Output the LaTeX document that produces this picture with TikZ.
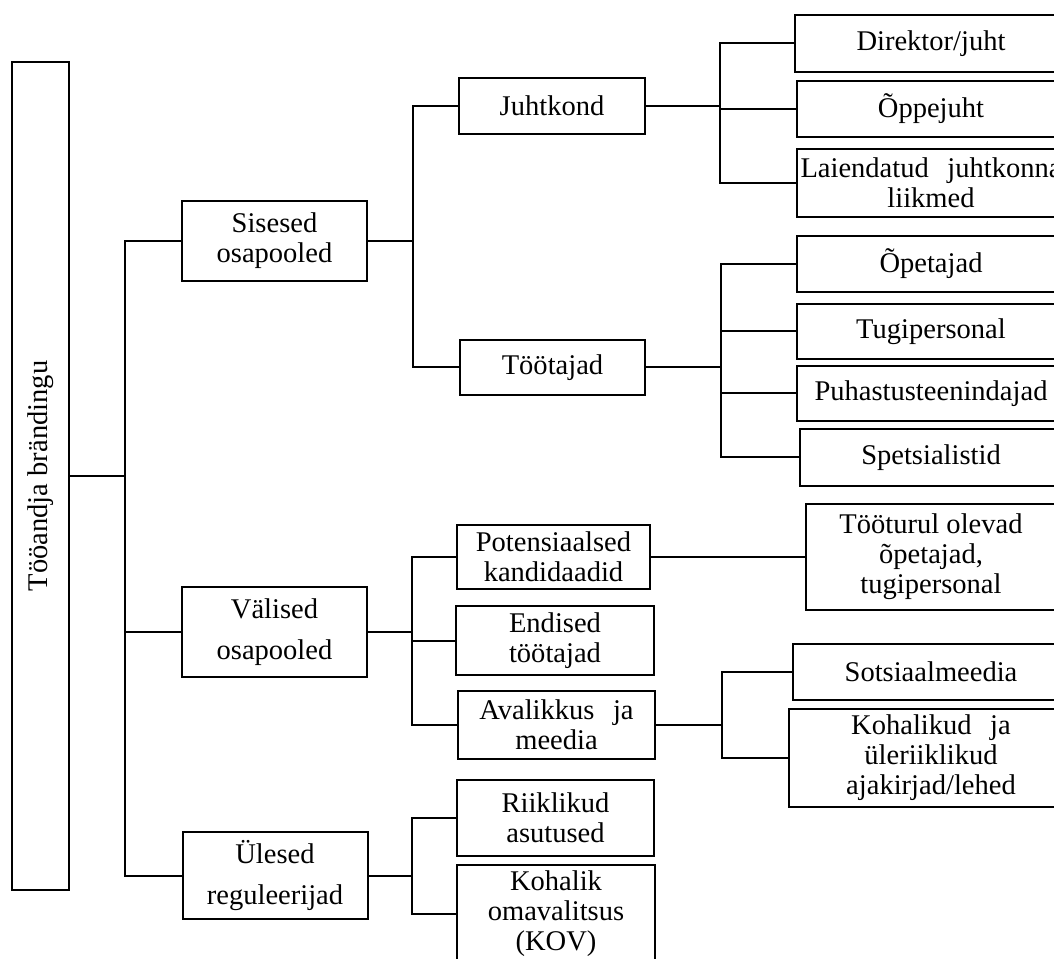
\documentclass[tikz,border=0pt]{standalone}
\usepackage{fontspec}
\setmainfont{Liberation Serif}
\begin{document}
\begin{tikzpicture}[x=0.75pt,y=-0.75pt,
  box/.style 2 args={draw, line width=1.5pt, inner sep=0pt, align=center,
    minimum width=#1*0.75pt, minimum height=#2*0.75pt},
  wide/.style={font=\fontsize{21.4}{30.75}\selectfont},
  wire/.style={line width=1.5pt},
  font=\fontsize{21.4}{22.5}\selectfont]
\useasboundingbox (0,0) rectangle (1054,959);
\clip (0,0) rectangle (1054,959);

% root
\node[box={828}{57}, rotate=90] (root) at (40.5,476) {Tööandja brändingu};

% first level
\node[box={185}{80}] (sis) at (274.5,241) {Sisesed\\osapooled};
\node[box={185}{90}, wide] (val) at (274.5,632) {Välised\\osapooled};
\node[box={185}{87}, wide] (yle) at (275,875.5) {Ülesed\\reguleerijad};

% second level
\node[box={186}{56}] (juht) at (552,106) {Juhtkond};
\node[box={185}{55}] (tood) at (552.5,367.5) {Töötajad};
\node[box={193}{64}] (pot) at (553.5,557) {Potensiaalsed\\kandidaadid};
\node[box={198}{69}] (end) at (555,640.5) {Endised\\töötajad};
\node[box={197}{68}] (ava) at (556.5,725) {Avalikkus\hspace{0.4em} ja\\meedia};
\node[box={197}{76}] (rii) at (555.5,818) {Riiklikud\\asutused};
\node[box={198}{98}] (kov) at (556,914) {Kohalik\\omavalitsus\\(KOV)};

% third level
\node[box={272}{57}, anchor=west] (dir) at (794,43.5) {Direktor/juht};
\node[box={268}{56}, anchor=west] (opj) at (796,109) {Õppejuht};
\node[box={268}{68}, anchor=west] (lai) at (796,183) {Laiendatud\hspace{0.4em} juhtkonna\\liikmed};
\node[box={268}{56}, anchor=west] (opt) at (796,264) {Õpetajad};
\node[box={268}{55}, anchor=west] (tug) at (796,331.5) {Tugipersonal};
\node[box={268}{55}, anchor=west] (puh) at (796,393.5) {Puhastusteenindajad};
\node[box={262}{57}, anchor=west] (spe) at (799,457.5) {Spetsialistid};
\node[box={250}{106}, anchor=west] (tur) at (805,557) {Tööturul olevad\\õpetajad,\\tugipersonal};
\node[box={276}{56}, anchor=west] (sot) at (792,672) {Sotsiaalmeedia};
\node[box={284}{98}, anchor=west] (kaj) at (788,758) {Kohalikud\hspace{0.4em} ja\\üleriiklikud\\ajakirjad/lehed};

% branch points
\coordinate (b0) at (125,476);
\coordinate (b1) at (413,241);
\coordinate (b2) at (412,632);
\coordinate (b3) at (412,875.5);
\coordinate (b4) at (720,106);
\coordinate (b5) at (721,367.5);
\coordinate (b6) at (722,725);

% connectors
\draw[wire] (root.south) -- (b0);
\foreach \c in {sis,val,yle} \draw[wire] (b0) |- (\c.west);
\draw[wire] (sis.east) -- (b1);
\foreach \c in {juht,tood} \draw[wire] (b1) |- (\c.west);
\draw[wire] (val.east) -- (b2);
\foreach \c in {pot,end,ava} \draw[wire] (b2) |- (\c.west);
\draw[wire] (yle.east) -- (b3);
\foreach \c in {rii,kov} \draw[wire] (b3) |- (\c.west);
\draw[wire] (juht.east) -- (b4);
\foreach \c in {dir,opj,lai} \draw[wire] (b4) |- (\c.west);
\draw[wire] (tood.east) -- (b5);
\foreach \c in {opt,tug,puh,spe} \draw[wire] (b5) |- (\c.west);
\draw[wire] (pot.east) -- (tur.west);
\draw[wire] (ava.east) -- (b6);
\foreach \c in {sot,kaj} \draw[wire] (b6) |- (\c.west);
\end{tikzpicture}
\end{document}
